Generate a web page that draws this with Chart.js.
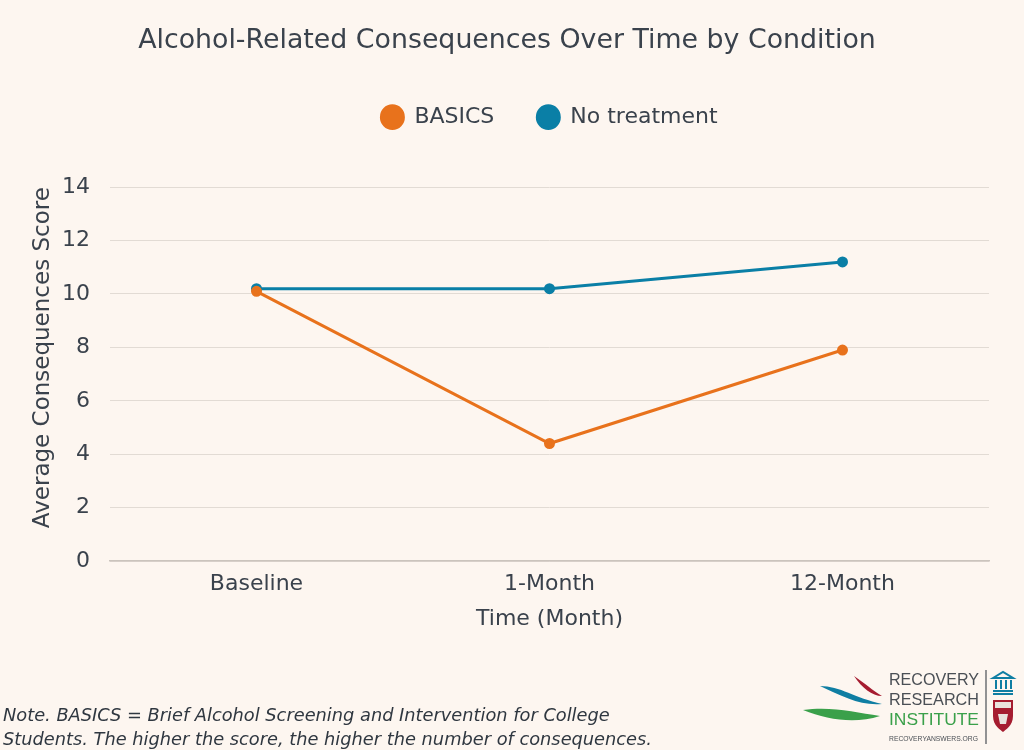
<!DOCTYPE html>
<html>
<head>
<meta charset="utf-8">
<script src="https://cdn.jsdelivr.net/npm/chart.js@4"></script>
<style>
  html, body { margin:0; padding:0; background:#fdf6f0; }
  #wrap { position:relative; width:1024px; height:750px; background:#fdf6f0; overflow:hidden; }
  canvas { position:absolute; left:0; top:0; }
  #note { position:absolute; left:3px; top:703px; font-family:"DejaVu Sans", sans-serif; font-style:italic; font-size:17.8px; line-height:24px; color:#2f3740; white-space:nowrap; }
  #logo { position:absolute; left:800px; top:664px; }
</style>
</head>
<body>
<div id="wrap">
  <canvas id="c" width="1024" height="750"></canvas>
  <div id="note">Note. BASICS = Brief Alcohol Screening and Intervention for College<br>Students. The higher the score, the higher the number of consequences.</div>
  <svg id="logo" width="224" height="86" viewBox="0 0 224 86">
    <path d="M20 22 C40 22 55 34 82 40 C60 42 42 32 20 22 Z" fill="#0f7ea3"/>
    <path d="M54 12 C66 20 72 26 82 32 C72 32 62 24 54 12 Z" fill="#a51c30"/>
    <path d="M3 46 C30 42 55 48 80 52 C55 60 28 56 3 46 Z" fill="#3aa04a"/>
    <text x="89" y="21" font-family="Liberation Sans, Arial, sans-serif" font-size="17" fill="#4a4f55" textLength="90" lengthAdjust="spacingAndGlyphs">RECOVERY</text>
    <text x="89" y="41" font-family="Liberation Sans, Arial, sans-serif" font-size="17" fill="#4a4f55" textLength="90" lengthAdjust="spacingAndGlyphs">RESEARCH</text>
    <text x="89" y="61" font-family="Liberation Sans, Arial, sans-serif" font-size="17" fill="#3aa04a" textLength="90" lengthAdjust="spacingAndGlyphs">INSTITUTE</text>
    <text x="89" y="77" font-family="Liberation Sans, Arial, sans-serif" font-size="7" fill="#4a4f55" textLength="89" lengthAdjust="spacingAndGlyphs">RECOVERYANSWERS.ORG</text>
    <line x1="186" y1="6" x2="186" y2="80" stroke="#4a4f55" stroke-width="1.2"/>
    <g fill="none" stroke="#0f7ea3" stroke-width="2">
      <path d="M193 14 L203 8 L213 14 Z"/>
      <line x1="196" y1="16" x2="196" y2="25"/><line x1="201" y1="16" x2="201" y2="25"/>
      <line x1="206" y1="16" x2="206" y2="25"/><line x1="211" y1="16" x2="211" y2="25"/>
      <line x1="193" y1="27" x2="213" y2="27"/><line x1="193" y1="30" x2="213" y2="30"/>
    </g>
    <path d="M193 36 L213 36 L213 52 C213 62 205 66 203 68 C201 66 193 62 193 52 Z" fill="#a51c30"/>
    <rect x="195" y="38" width="16" height="6" fill="#e9e2dd"/>
    <path d="M198 50 L208 50 L206 60 L200 60 Z" fill="#e9e2dd"/>
  </svg>
</div>
<script>
const categories = ["Baseline", "1-Month", "12-Month"];
const basicsValues = [10.1, 4.4, 7.9];
const noTreatmentValues = [10.2, 10.2, 11.2];
const seriesNames = ["BASICS", "No treatment"];
const yTicks = [0, 2, 4, 6, 8, 10, 12, 14];

const textColor = "#3a424c";
const fontFamily = "'DejaVu Sans', sans-serif";

new Chart(document.getElementById("c"), {
  type: "line",
  data: {
    labels: categories,
    datasets: [
      { label: seriesNames[0], data: basicsValues, borderColor: "#e8721c", backgroundColor: "#e8721c",
        borderWidth: 3, pointRadius: 4, pointHoverRadius: 4, tension: 0 },
      { label: seriesNames[1], data: noTreatmentValues, borderColor: "#0a7fa6", backgroundColor: "#0a7fa6",
        borderWidth: 3, pointRadius: 4, pointHoverRadius: 4, tension: 0 }
    ]
  },
  options: {
    responsive: false,
    animation: false,
    devicePixelRatio: 1,
    layout: { padding: { left: 25, right: 35, top: 25, bottom: 114 } },
    plugins: {
      tooltip: { enabled: false },
      title: {
        display: true,
        text: "Alcohol-Related Consequences Over Time by Condition",
        color: textColor,
        font: { family: fontFamily, size: 26.8, weight: "normal" },
        padding: { top: 0, bottom: 6 }
      },
      legend: {
        display: true,
        weight: 1800,
        fullSize: false,
        labels: {
          usePointStyle: true,
          pointStyle: "circle",
          pointStyleWidth: 22,
          boxWidth: 22,
          boxHeight: 16,
          padding: 43,
          color: textColor,
          font: { family: fontFamily, size: 22 }
        }
      },
      subtitle: {
        display: true,
        text: " ",
        font: { size: 10 },
        padding: { top: 0, bottom: 37 }
      }
    },
    scales: {
      x: {
        offset: true,
        afterFit: (scale) => { scale.height = 75; },
        grid: { display: false, drawTicks: false },
        border: { display: true, color: "#cbc4bd", width: 1.5 },
        ticks: { color: textColor, padding: 10, font: { family: fontFamily, size: 22 } },
        title: { display: true, text: "Time (Month)", color: textColor,
                 font: { family: fontFamily, size: 22 }, padding: { top: 0, bottom: 4 } }
      },
      y: {
        min: 0, max: 14,
        afterFit: (scale) => { scale.width = 85; },
        afterBuildTicks: (axis) => { axis.ticks = yTicks.map(v => ({ value: v })); },
        grid: { color: "#e2dbd4", lineWidth: 1, drawTicks: false },
        border: { display: false },
        ticks: { color: textColor, padding: 20, font: { family: fontFamily, size: 22 } },
        title: { display: true, align: "end", text: "Average Consequences Score", color: textColor,
                 font: { family: fontFamily, size: 23 }, padding: { top: 4, bottom: 0 } }
      }
    }
  }
});
</script>
</body>
</html>
